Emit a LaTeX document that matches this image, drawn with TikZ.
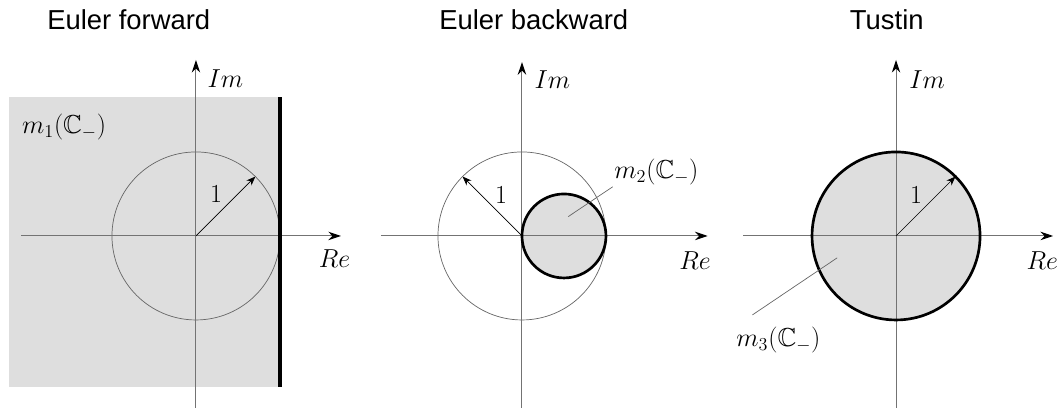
\RequirePackage{fix-cm}
\documentclass[tikz,border=0pt]{standalone}
\usepackage{amssymb}
\usepackage{fontspec}
\newfontfamily\titlefont{Liberation Sans}
\usetikzlibrary{arrows.meta}

\begin{document}
\begin{tikzpicture}[x=2.1cm, y=2.1cm,
  axis/.style  ={draw=black!55, line width=0.7pt, -{Stealth[length=9pt,width=6pt,color=black]}},
  unit/.style  ={draw=black!60, line width=0.5pt},
  region/.style={fill=black!13},
  rim/.style   ={draw=black, line width=1.9pt},
  bound/.style ={draw=black, line width=2.4pt},
  radius/.style={draw=black, line width=0.5pt, -{Stealth[length=6.5pt,width=5pt]}},
  leader/.style={draw=black!60, line width=0.5pt},
  ttl/.style   ={font=\titlefont\fontsize{19.5}{23}\selectfont},
  lbl/.style   ={font=\fontsize{18.5}{22}\selectfont, inner sep=1pt}]

  \useasboundingbox (0,0) rectangle (12.631,4.857);

  % ---------------- Euler forward : left half plane ----------------
  \begin{scope}[shift={(2.333,2.048)}]
    \fill[region] (-2.226,-1.798) rectangle (1,1.655);
    \draw[unit] (0,0) circle (1);
    \draw[axis] (-2.083,0) -- (1.726,0);
    \draw[axis] (0,-2.1) -- (0,2.095);
    \draw[bound] (1,-1.798) -- (1,1.655);   % image of the imaginary axis
    \coordinate (o1) at (0,0); \coordinate (r1) at (45:1);
    \draw[radius] (o1) -- (r1);
    \node[lbl] (one1) at (0.24,0.5) {$1$};
    \node[lbl,right] (im1) at (0.12,1.87) {$Im$};
    \node[lbl] (re1) at (1.65,-0.27) {$Re$};
    \node[lbl] (m1) at (-1.57,1.30) {$m_1(\mathbb{C}_-)$};
    \node[ttl] (t1) at (-0.80,2.57) {Euler forward};
  \end{scope}

  % ---------------- Euler backward : small disc ----------------
  \begin{scope}[shift={(6.214,2.048)}]
    \draw[unit] (0,0) circle (1);
    \fill[region] (0.5,0) circle (0.5);
    \draw[axis] (-1.68,0) -- (2.21,0);
    \draw[axis] (0,-2.1) -- (0,2.07);
    \draw[rim] (0.5,0) circle (0.5);
    \coordinate (o2) at (0,0); \coordinate (r2) at (135:1);
    \draw[radius] (o2) -- (r2);
    \node[lbl] (one2) at (-0.25,0.49) {$1$};
    \node[lbl,right] (im2) at (0.13,1.86) {$Im$};
    \node[lbl] (re2) at (2.06,-0.29) {$Re$};
    \node[lbl] (m2) at (1.6,0.76) {$m_2(\mathbb{C}_-)$};
    \coordinate (p2) at (0.55,0.23);
    \draw[leader] (p2) -- (m2.south west);
    \node[ttl] (t2) at (0.14,2.57) {Euler backward};
  \end{scope}

  % ---------------- Tustin : unit disc ----------------
  \begin{scope}[shift={(10.667,2.048)}]
    \fill[region] (0,0) circle (1);
    \draw[axis] (-1.82,0) -- (1.87,0);
    \draw[axis] (0,-2.1) -- (0,2.095);
    \draw[rim] (0,0) circle (1);
    \coordinate (o3) at (0,0); \coordinate (r3) at (45:1);
    \draw[radius] (o3) -- (r3);
    \node[lbl] (one3) at (0.24,0.49) {$1$};
    \node[lbl,right] (im3) at (0.14,1.86) {$Im$};
    \node[lbl] (re3) at (1.74,-0.29) {$Re$};
    \node[lbl] (m3) at (-1.40,-1.24) {$m_3(\mathbb{C}_-)$};
    \coordinate (p3) at (-0.70,-0.26); \coordinate (q3) at (-1.71,-0.94);
    \draw[leader] (p3) -- (q3);
    \node[ttl] (t3) at (-0.11,2.57) {Tustin};
  \end{scope}
\end{tikzpicture}
\end{document}
